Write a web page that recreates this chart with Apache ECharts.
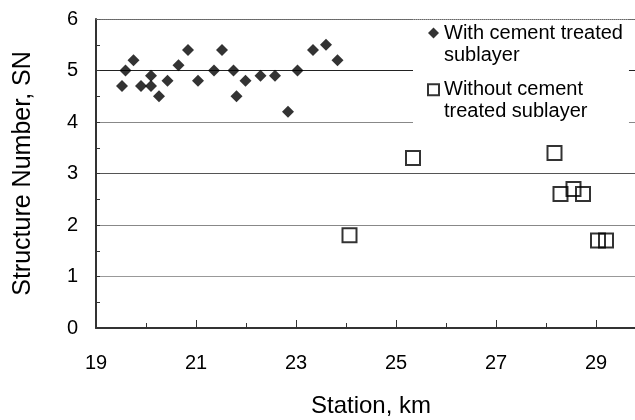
<!DOCTYPE html>
<html>
<head>
<meta charset="utf-8">
<script src="https://cdn.jsdelivr.net/npm/echarts@6/dist/echarts.min.js"></script>
<style>
html,body{margin:0;padding:0;background:#fff;}
#chart{width:635px;height:420px;}
</style>
</head>
<body>
<div id="chart"></div>
<script>
// Data
var withName = 'With cement treated sublayer';
var withoutName = 'Without cement treated sublayer';
var withX = [19.52,19.59,19.75,19.90,20.10,20.10,20.26,20.43,20.65,20.84,21.04,21.36,21.52,21.75,21.81,21.99,22.29,22.58,22.84,23.03,23.34,23.60,23.83];
var withY = [4.7,5.0,5.2,4.7,4.9,4.7,4.5,4.8,5.1,5.4,4.8,5.0,5.4,5.0,4.5,4.8,4.9,4.9,4.2,5.0,5.4,5.5,5.2];
var withoutX = [24.07,25.34,28.17,28.29,28.55,28.74,29.04,29.20];
var withoutY = [1.8,3.3,3.4,2.6,2.7,2.6,1.7,1.7];
var xMin = 19, xMax = 30, xStep = 2;
var yMin = 0, yMax = 6, yStep = 1;
var xTitle = 'Station, km';
var yTitle = 'Structure Number, SN';

function pairs(xs, ys){ return xs.map(function(x,i){ return [x, ys[i]]; }); }

var FONT = 'Liberation Sans, Arial, sans-serif';
var chart = echarts.init(document.getElementById('chart'), null, {renderer:'canvas'});
chart.setOption({
  animation: false,
  backgroundColor: '#fff',
  textStyle: {fontFamily: FONT, color: '#000'},
  grid: {left: 96, top: 19, bottom: 92, right: -11, containLabel: false, outerBoundsMode: 'none'},
  legend: {
    orient: 'vertical',
    left: 413, top: 0,
    padding: [0, 6, 8, 14],
    itemGap: -9.3,
    itemWidth: 11, itemHeight: 11,
    selectedMode: false,
    backgroundColor: '#fff',
    formatter: function(n){
      return n === withName ? '\nWith cement treated\nsublayer' : '\nWithout cement\ntreated sublayer';
    },
    textStyle: {fontFamily: FONT, fontSize: 20, lineHeight: 22, color: '#000'},
    data: [withName, withoutName]
  },
  xAxis: [{
    type: 'value', min: xMin, max: xMax, interval: xStep,
    name: xTitle, nameLocation: 'middle', nameGap: 66,
    nameTextStyle: {fontFamily: FONT, fontSize: 24, color: '#000'},
    axisLine: {show: true, lineStyle: {color: '#333', width: 2}},
    axisTick: {show: true, inside: true, length: 8, lineStyle: {color: '#333'}},
    minorTick: {show: true, splitNumber: 2, length: 5, lineStyle: {color: '#333'}},
    axisLabel: {fontFamily: FONT, fontSize: 20, color: '#000', margin: 25, showMaxLabel: false},
    splitLine: {show: false}
  }, {
    type: 'value', min: xMin, max: xMax, position: 'top', z: 6,
    axisLine: {show: true, lineStyle: {color: '#666', width: 1, type: 'dotted'}},
    axisTick: {show: false}, axisLabel: {show: false}, splitLine: {show: false}
  }],
  yAxis: {
    type: 'value', min: yMin, max: yMax, interval: yStep,
    name: yTitle, nameLocation: 'middle', nameGap: 60,
    nameTextStyle: {fontFamily: FONT, fontSize: 25, color: '#000'},
    axisLine: {show: true, lineStyle: {color: '#333', width: 2}},
    axisTick: {show: true, inside: true, length: 4, lineStyle: {color: '#333'}},
    minorTick: {show: true, splitNumber: 2, length: 4, lineStyle: {color: '#333'}},
    axisLabel: {fontFamily: FONT, fontSize: 20, color: '#000', margin: 18},
    splitLine: {show: true, lineStyle: {color: ['#888','#999','#888','#555','#888','#222','#888'], width: 1}}
  },
  series: [{
    name: withName, type: 'scatter', symbol: 'diamond', symbolSize: 12,
    itemStyle: {color: '#000'},
    data: pairs(withX, withY)
  }, {
    name: withoutName, type: 'scatter', symbol: 'rect', symbolSize: 14,
    itemStyle: {color: 'rgba(255,255,255,0)', borderColor: '#000', borderWidth: 2},
    data: pairs(withoutX, withoutY)
  }]
});
</script>
</body>
</html>
